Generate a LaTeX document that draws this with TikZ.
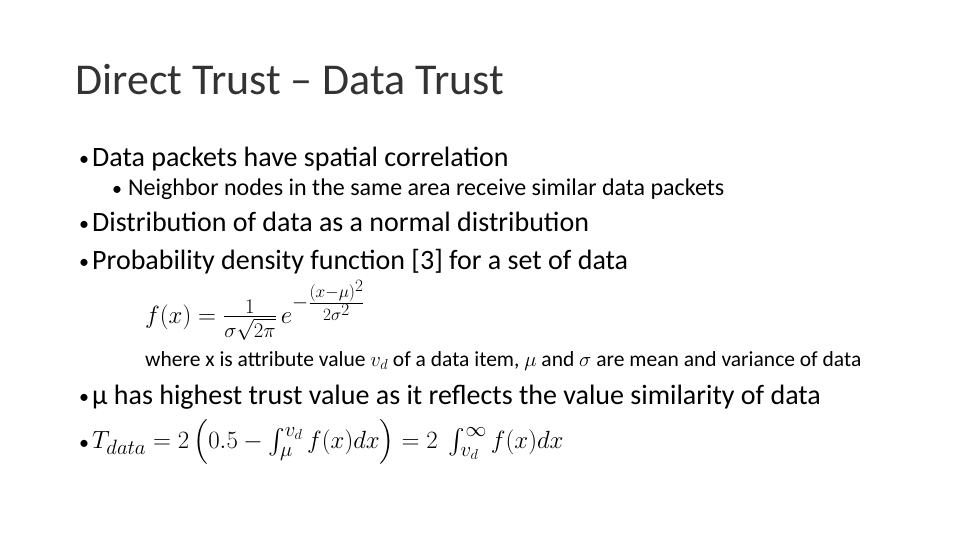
\documentclass[tikz,border=0pt]{standalone}
\usepackage{amsmath}
\usepackage{fontspec}
\setmainfont{Carlito}
\begin{document}
\begin{tikzpicture}[x=1pt,y=-1pt,
  title/.style={anchor=base west,inner sep=0pt,font=\fontsize{44}{50}\selectfont\color{black!80}},
  body/.style={anchor=base west,inner sep=0pt,font=\fontsize{28}{32}\selectfont},
  bul/.style={anchor=base west,inner sep=0pt,font=\fontsize{20}{24}\selectfont},
  sub/.style={anchor=base west,inner sep=0pt,font=\fontsize{24}{28}\selectfont},
  small/.style={anchor=base west,inner sep=0pt,font=\fontsize{21.5}{26}\selectfont}]
\useasboundingbox (0,0) rectangle (960,540);
\node[title] (t) at (75,95) {Direct Trust – Data Trust};
\node[bul] (b1) at (79,166) {•};
\node[body] (l1) at (92,167) {Data packets have spatial correlation};
\node[bul] (b2) at (112,195) {•};
\node[sub] (l2) at (128,196) {Neighbor nodes in the same area receive similar data packets};
\node[bul] (b3) at (79,230) {•};
\node[body] (l3) at (92,231) {Distribution of data as a normal distribution};
\node[bul] (b4) at (79,268) {•};
\node[body] (l4) at (92,269) {Probability density function [3] for a set of data};
\node[anchor=west,inner sep=0pt,font=\fontsize{32}{36}\selectfont] (f) at (145,310) {$f(x)=\tfrac{1}{\sigma\sqrt{2\pi}}\,e^{-\frac{(x-\mu)^2}{2\sigma^2}}$};
\node[small] (w) at (145,366) {where x is attribute value $v_d$ of a data item, $\mu$ and $\sigma$ are mean and variance of data};
\node[bul] (b5) at (79,403) {•};
\node[body] (l5) at (92,404) {µ has highest trust value as it reflects the value similarity of data};
\node[bul] (b6) at (79,449) {•};
\node[anchor=west,inner sep=0pt,font=\fontsize{31}{36}\selectfont] (l6) at (92,442) {$T_{data}=2\left(0.5-\int_{\mu}^{v_d} f(x)dx\right)=2\ \int_{v_d}^{\infty} f(x)dx$};
\end{tikzpicture}
\end{document}
